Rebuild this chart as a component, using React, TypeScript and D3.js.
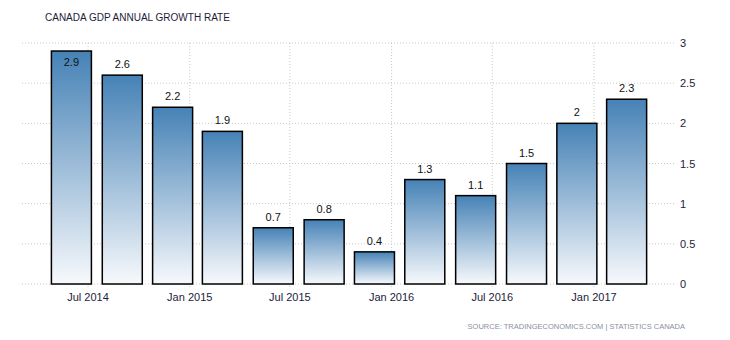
import React from "react";
import * as d3 from "d3";

const TITLE = "CANADA GDP ANNUAL GROWTH RATE";
const SOURCE = "SOURCE: TRADINGECONOMICS.COM | STATISTICS CANADA";
const periods = ["2014-06-01", "2014-09-01", "2014-12-01", "2015-03-01", "2015-06-01", "2015-09-01", "2015-12-01", "2016-03-01", "2016-06-01", "2016-09-01", "2016-12-01", "2017-03-01"];
const values = [2.9, 2.6, 2.2, 1.9, 0.7, 0.8, 0.4, 1.3, 1.1, 1.5, 2, 2.3];
const xTicks = ["2014-07-01", "2015-01-01", "2015-07-01", "2016-01-01", "2016-07-01", "2017-01-01"];
const yTicks = [0, 0.5, 1, 1.5, 2, 2.5, 3];

export default function App() {
  const W = 730, H = 340;
  const left = 22, right = 676, top = 43, bottom = 284;
  const parse = d3.utcParse("%Y-%m-%d");
  const t0 = parse("2014-07-01")!, t1 = parse("2017-01-01")!;
  const x0 = 88, x1 = 594;
  const pxPerMs = (x1 - x0) / (+t1 - +t0);
  const x = d3.scaleUtc()
    .domain([new Date(+t0 - (x0 - left) / pxPerMs), new Date(+t1 + (right - x1) / pxPerMs)])
    .range([left, right]);
  const y = d3.scaleLinear().domain([0, 3]).range([bottom, top]);
  const fmt = d3.utcFormat("%b %Y");
  const bw = 40;
  const font = "'Liberation Sans', Arial, sans-serif";
  return (
    <svg width={W} height={H} style={{ position: "absolute", left: 0, top: 0, background: "#fff" }}>
      <defs>
        <linearGradient id="g" x1="0" y1="0" x2="0" y2="1">
          <stop offset="0%" stopColor="#4682b6" />
          <stop offset="100%" stopColor="#f7f9fc" />
        </linearGradient>
      </defs>
      <text x={45} y={21} fontFamily={font} fontSize={10} fill="#1c1c3a">{TITLE}</text>
      {yTicks.map((t) => (
        <g key={t}>
          <line x1={left} x2={right} y1={y(t)} y2={y(t)} stroke="#c8c8c8" strokeDasharray="1,2" />
          <text x={680} y={y(t) + 4} fontFamily={font} fontSize={11} fill="#1c1c3a">{t}</text>
        </g>
      ))}
      {xTicks.map((s) => {
        const d = parse(s)!;
        return (
          <g key={s}>
            <line x1={x(d)} x2={x(d)} y1={top} y2={bottom + 4} stroke="#c8c8c8" strokeDasharray="1,2" />
            <text x={x(d)} y={301} textAnchor="middle" fontFamily={font} fontSize={11} fill="#1c1c3a">{fmt(d)}</text>
          </g>
        );
      })}
      {periods.map((p, i) => {
        const cx = x(parse(p)!);
        const v = values[i];
        const yt = y(v);
        const inside = yt - 14 < top;
        return (
          <g key={p}>
            <rect x={cx - bw / 2} y={yt} width={bw} height={bottom - yt} fill="url(#g)" stroke="#000" strokeWidth={1.5} />
            <text x={cx} y={inside ? yt + 15 : yt - 7} textAnchor="middle" fontFamily={font} fontSize={11} fill="#111">{v}</text>
          </g>
        );
      })}
      <text x={685} y={329} textAnchor="end" fontFamily={font} fontSize={7.5} fill="#8a8fa0">{SOURCE}</text>
    </svg>
  );
}
